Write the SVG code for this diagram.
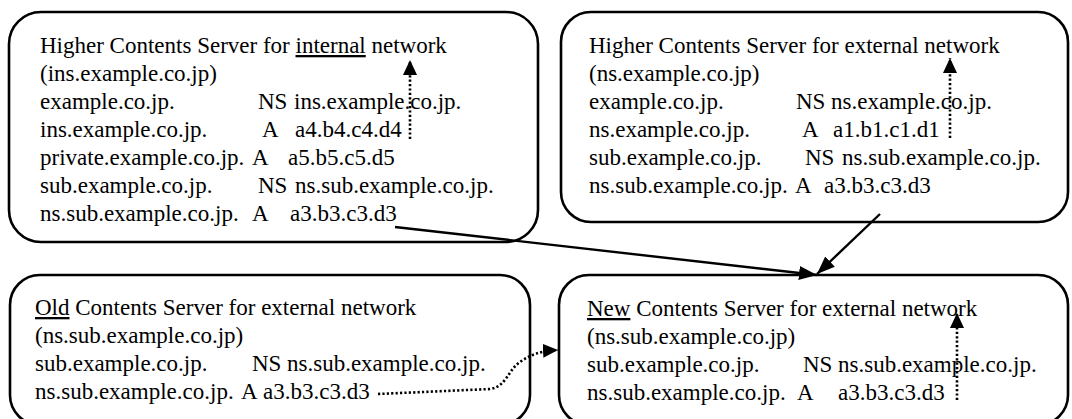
<svg xmlns="http://www.w3.org/2000/svg" width="1072" height="419" viewBox="0 0 1072 419">
<style>
.box{fill:#fff;stroke:#000;stroke-width:2.6}
text{font-family:"Liberation Serif","Times New Roman",serif;font-size:23px;fill:#000}
.u{text-decoration:underline}
.solid{fill:none;stroke:#000;stroke-width:2.4}
.dot{fill:none;stroke:#000;stroke-width:2.6;stroke-dasharray:2.2 2.2}
</style>
<defs>
<marker id="ah" markerUnits="userSpaceOnUse" markerWidth="18" markerHeight="14" viewBox="0 0 18 14" refX="18" refY="7" orient="auto">
<path d="M0,0 L18,7 L0,14 z" fill="#000"/>
</marker>
<marker id="ahs" markerUnits="userSpaceOnUse" markerWidth="15" markerHeight="14" viewBox="0 0 15 14" refX="15" refY="7" orient="auto">
<path d="M0,0 L15,7 L0,14 z" fill="#000"/>
</marker>
</defs>

<g id="node-internal">
<rect class="box" x="9" y="12" width="529" height="230" rx="32" ry="32"/>
<text x="40" y="53">Higher Contents Server for <tspan class="u">internal</tspan> network</text>
<text x="40" y="81">(ins.example.co.jp)</text>
<text y="109"><tspan x="40">example.co.jp.</tspan><tspan x="258">NS</tspan><tspan x="294">ins.example.co.jp.</tspan></text>
<text y="137"><tspan x="40">ins.example.co.jp.</tspan><tspan x="262">A</tspan><tspan x="295">a4.b4.c4.d4</tspan></text>
<text y="165"><tspan x="40">private.example.co.jp.</tspan><tspan x="252">A</tspan><tspan x="288">a5.b5.c5.d5</tspan></text>
<text y="193"><tspan x="40">sub.example.co.jp.</tspan><tspan x="258">NS</tspan><tspan x="295">ns.sub.example.co.jp.</tspan></text>
<text y="221"><tspan x="40">ns.sub.example.co.jp.</tspan><tspan x="252">A</tspan><tspan x="290">a3.b3.c3.d3</tspan></text>
</g>

<g id="node-external-higher">
<rect class="box" x="561" y="12" width="507" height="210" rx="30" ry="30"/>
<text x="589" y="53">Higher Contents Server for external network</text>
<text x="589" y="81">(ns.example.co.jp)</text>
<text y="109"><tspan x="589">example.co.jp.</tspan><tspan x="796">NS</tspan><tspan x="831">ns.example.co.jp.</tspan></text>
<text y="137"><tspan x="589">ns.example.co.jp.</tspan><tspan x="802">A</tspan><tspan x="833">a1.b1.c1.d1</tspan></text>
<text y="165"><tspan x="589">sub.example.co.jp.</tspan><tspan x="805">NS</tspan><tspan x="842">ns.sub.example.co.jp.</tspan></text>
<text y="193"><tspan x="589">ns.sub.example.co.jp.</tspan><tspan x="795">A</tspan><tspan x="824">a3.b3.c3.d3</tspan></text>
</g>

<g id="node-old">
<rect class="box" x="10" y="275" width="520" height="150" rx="30" ry="30"/>
<text x="35" y="315"><tspan class="u">Old</tspan> Contents Server for external network</text>
<text x="35" y="343">(ns.sub.example.co.jp)</text>
<text y="371"><tspan x="35">sub.example.co.jp.</tspan><tspan x="252">NS</tspan><tspan x="287">ns.sub.example.co.jp.</tspan></text>
<text y="399"><tspan x="35">ns.sub.example.co.jp.</tspan><tspan x="241">A</tspan><tspan x="263">a3.b3.c3.d3</tspan></text>
</g>

<g id="node-new">
<rect class="box" x="559" y="275" width="509" height="150" rx="30" ry="30"/>
<text x="587" y="316"><tspan class="u">New</tspan> Contents Server for external network</text>
<text x="587" y="344">(ns.sub.example.co.jp)</text>
<text y="372"><tspan x="587">sub.example.co.jp.</tspan><tspan x="803">NS</tspan><tspan x="838">ns.sub.example.co.jp.</tspan></text>
<text y="400"><tspan x="587">ns.sub.example.co.jp.</tspan><tspan x="797">A</tspan><tspan x="838">a3.b3.c3.d3</tspan></text>
</g>

<g id="connectors">
<path class="solid" d="M395,227 L817,275" marker-end="url(#ah)"/>
<path class="solid" d="M880,214 L817,274" marker-end="url(#ah)"/>
<path class="dot" d="M410,139 L410,60" marker-end="url(#ahs)"/>
<path class="dot" d="M950,138 L950,58" marker-end="url(#ahs)"/>
<path class="dot" d="M957,400 L957,313" marker-end="url(#ahs)"/>
<path class="dot" d="M378,394 L490,389 C506,387 508,370 520,362 C530,355 540,351 558,350" marker-end="url(#ahs)"/>
</g>
</svg>
